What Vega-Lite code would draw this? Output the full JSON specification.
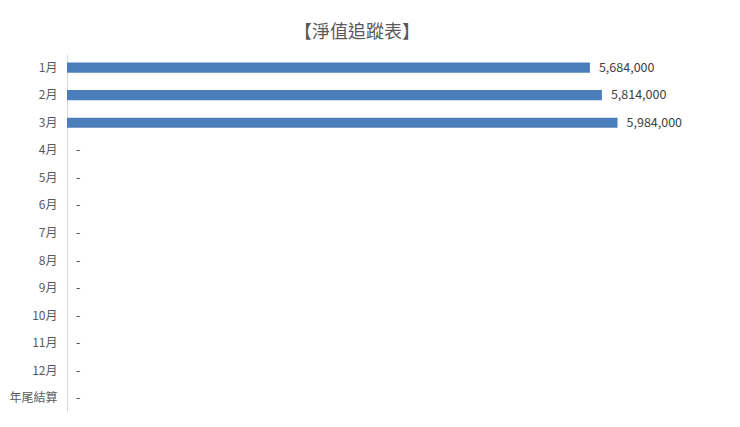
{
  "$schema": "https://vega.github.io/schema/vega-lite/v6.json",
  "autosize": "none",
  "padding": {"left": 67, "top": 54, "right": 29, "bottom": 15},
  "width": 644,
  "height": 358,
  "background": "white",
  "config": {"view": {"stroke": null}},
  "title": {
    "text": "【淨值追蹤表】",
    "font": "Noto Sans CJK TC",
    "fontSize": 18,
    "fontWeight": "normal",
    "color": "#595959",
    "anchor": "middle",
    "frame": "group",
    "dx": -32,
    "offset": 12
  },
  "data": {
    "values": [
      {"month": "1月", "value": 5684000, "label": "5,684,000"},
      {"month": "2月", "value": 5814000, "label": "5,814,000"},
      {"month": "3月", "value": 5984000, "label": "5,984,000"},
      {"month": "4月", "value": 0, "label": "-"},
      {"month": "5月", "value": 0, "label": "-"},
      {"month": "6月", "value": 0, "label": "-"},
      {"month": "7月", "value": 0, "label": "-"},
      {"month": "8月", "value": 0, "label": "-"},
      {"month": "9月", "value": 0, "label": "-"},
      {"month": "10月", "value": 0, "label": "-"},
      {"month": "11月", "value": 0, "label": "-"},
      {"month": "12月", "value": 0, "label": "-"},
      {"month": "年尾結算", "value": 0, "label": "-"}
    ]
  },
  "encoding": {
    "y": {
      "field": "month",
      "type": "nominal",
      "sort": null,
      "title": null,
      "scale": {"paddingInner": 0.63, "paddingOuter": 0.31},
      "axis": {
        "ticks": false,
        "domainColor": "#d9d9d9",
        "labelFont": "Noto Sans CJK TC",
        "labelFontSize": 12,
        "labelColor": "#595959",
        "labelPadding": 10
      }
    },
    "x": {
      "field": "value",
      "type": "quantitative",
      "scale": {"domain": [0, 7000000]},
      "axis": null
    }
  },
  "layer": [
    {"mark": {"type": "bar", "color": "#4a7ebb"}},
    {
      "mark": {
        "type": "text",
        "align": "left",
        "dx": 9,
        "font": "Noto Sans CJK TC",
        "fontSize": 12.5,
        "color": "#404040"
      },
      "encoding": {"text": {"field": "label"}}
    }
  ]
}
